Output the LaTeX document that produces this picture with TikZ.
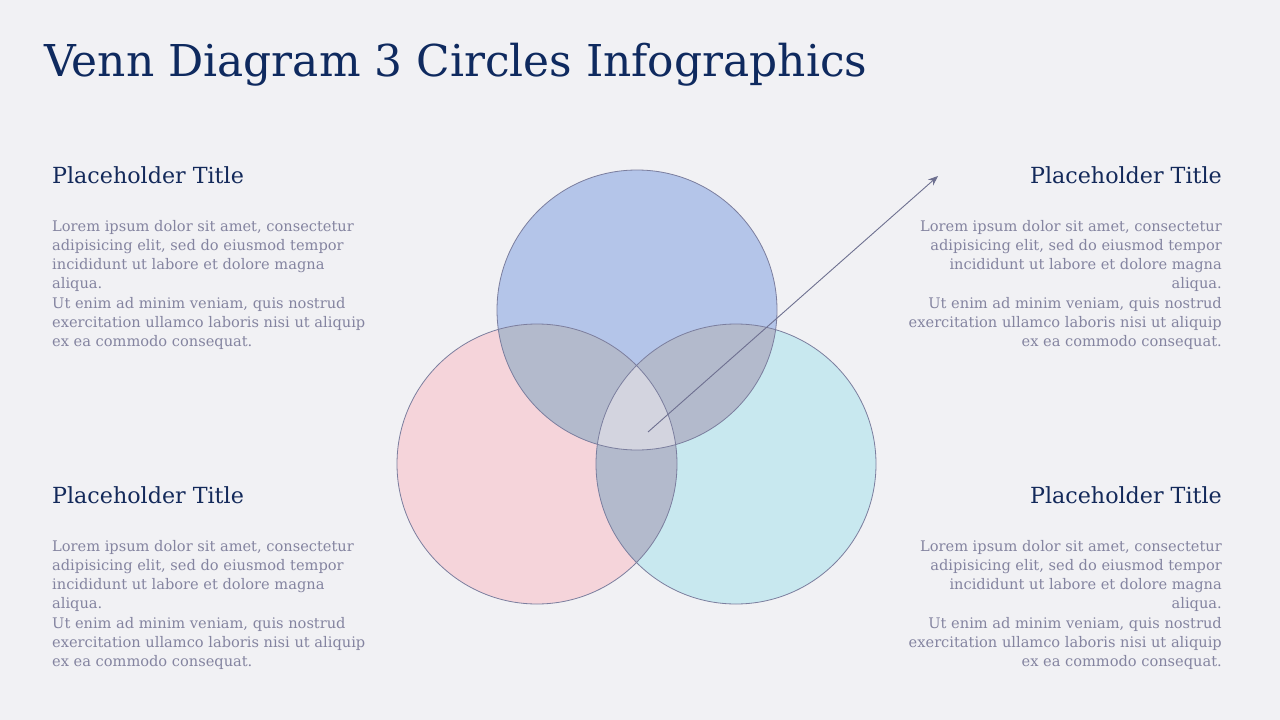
\documentclass[tikz,border=0pt]{standalone}
\usepackage{fontspec}
\setmainfont{DejaVu Serif}
\usepackage{xcolor}
\usepackage{tikz}
\usetikzlibrary{
  arrows.meta,
  positioning
}
\definecolor{PageGray}{HTML}{F1F1F4}
\definecolor{TitleNavy}{HTML}{0F2A5F}
\definecolor{HeadNavy}{HTML}{13295A}
\definecolor{BodyGray}{HTML}{8484A0}
\definecolor{VennBlue}{HTML}{B4C5E9}
\definecolor{VennPink}{HTML}{F5D4DA}
\definecolor{VennCyan}{HTML}{C8E8EF}
\definecolor{VennOverlap}{HTML}{B3BACC}
\definecolor{VennCore}{HTML}{D3D4DF}
\definecolor{VennLine}{HTML}{7B7E9E}
\definecolor{ArrowGray}{HTML}{6E7090}
\tikzset{
  slidetitle/.style={
    font=\fontsize{43.9}{50}\selectfont,
    text=TitleNavy,
    inner sep=0pt
  },
  heading/.style={
    font=\fontsize{22.2}{27}\selectfont,
    text=HeadNavy,
    inner sep=0pt
  },
  bodytext/.style={
    font=\fontsize{14.6}{19.2}\selectfont,
    text=BodyGray,
    inner sep=0pt
  },
  vennline/.style={
    draw=VennLine,
    line width=0.8pt
  },
  pointer/.style={
    -{Stealth[length=10pt,width=8pt]},
    draw=ArrowGray,
    line width=0.9pt
  }
}
\newcommand{\vennradius}{140}
\newcommand{\loremleft}{%
  Lorem ipsum dolor sit amet, consectetur\\
  adipisicing elit, sed do eiusmod tempor\\
  incididunt ut labore et dolore magna\\
  aliqua.\\
  Ut enim ad minim veniam, quis nostrud\\
  exercitation ullamco laboris nisi ut aliquip\\
  ex ea commodo consequat.}

\begin{document}
\begin{tikzpicture}[x=1pt,y=-1pt]

  % page
  \fill[PageGray] (0,0) rectangle (1280,720);
  \useasboundingbox (0,0) rectangle (1280,720);

  \node[slidetitle, anchor=base west] (title) at (44,76)
  {Venn Diagram 3 Circles Infographics};

  % circle centres
  \coordinate (ctop) at (637,310);
  \coordinate (cleft) at (537,464);
  \coordinate (cright) at (736,464);

  % plain circles
  \fill[VennBlue] (ctop) circle (\vennradius);
  \fill[VennPink] (cleft) circle (\vennradius);
  \fill[VennCyan] (cright) circle (\vennradius);

  % pairwise overlaps
  \begin{scope}
    \clip (ctop) circle (\vennradius);
    \fill[VennOverlap] (cleft) circle (\vennradius);
    \fill[VennOverlap] (cright) circle (\vennradius);
  \end{scope}
  \begin{scope}
    \clip (cleft) circle (\vennradius);
    \fill[VennOverlap] (cright) circle (\vennradius);
  \end{scope}

  % centre
  \begin{scope}
    \clip (ctop) circle (\vennradius);
    \clip (cleft) circle (\vennradius);
    \fill[VennCore] (cright) circle (\vennradius);
  \end{scope}

  % outlines
  \draw[vennline] (ctop) circle (\vennradius);
  \draw[vennline] (cleft) circle (\vennradius);
  \draw[vennline] (cright) circle (\vennradius);

  % text blocks
  \node[heading, anchor=base west] (headtl) at (52,183) {Placeholder Title};
  \node[bodytext, align=left, anchor=north west] (bodytl) at (52,220) {\loremleft};

  \node[heading, anchor=base west] (headbl) at (52,503) {Placeholder Title};
  \node[bodytext, align=left, anchor=north west] (bodybl) at (52,540) {\loremleft};

  \node[heading, anchor=base east] (headtr) at (1222,183) {Placeholder Title};
  \node[bodytext, align=right, anchor=north east] (bodytr) at (1222,220) {\loremleft};

  \node[heading, anchor=base east] (headbr) at (1222,503) {Placeholder Title};
  \node[bodytext, align=right, anchor=north east] (bodybr) at (1222,540) {\loremleft};

  % pointer
  \coordinate (arrowstart) at (648,432);
  \coordinate (arrowend) at (938,176);
  \draw[pointer] (arrowstart) -- (arrowend);

\end{tikzpicture}
\end{document}
